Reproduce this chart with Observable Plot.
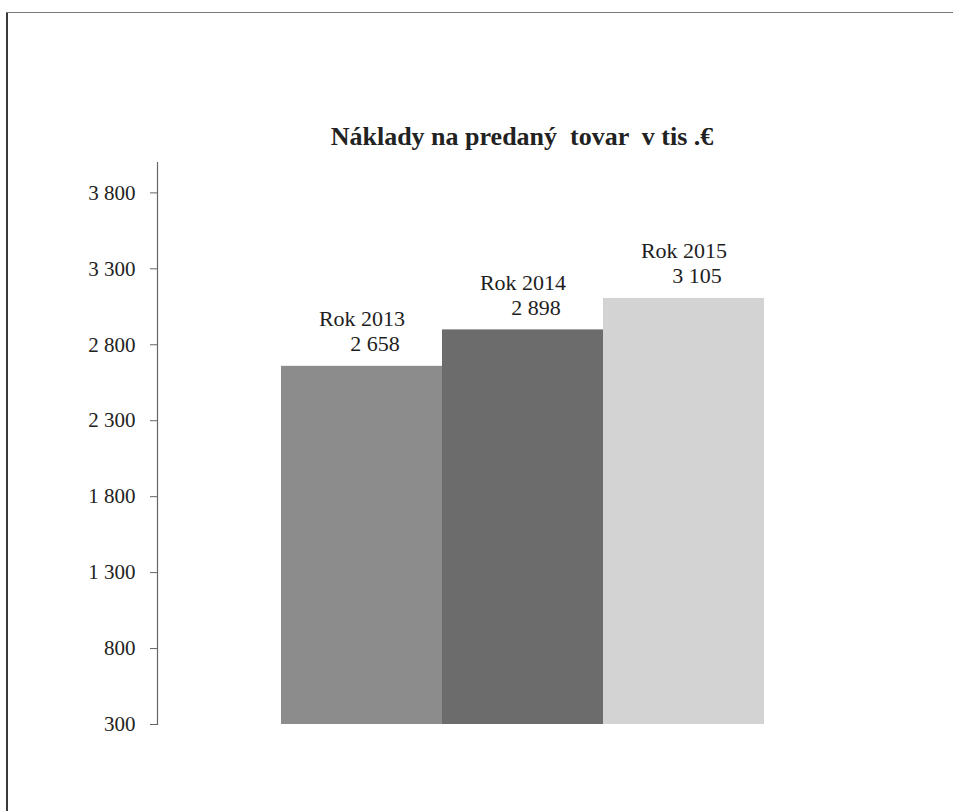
<!DOCTYPE html>
<html>
<head>
<meta charset="utf-8">
<script src="https://cdn.jsdelivr.net/npm/d3@7"></script>
<script src="https://cdn.jsdelivr.net/npm/@observablehq/plot@0.6"></script>
<style>
  html, body { margin: 0; padding: 0; background: #fff; overflow: hidden; }
  #page { position: relative; width: 953px; height: 811px; overflow: hidden; font-family: "Liberation Serif", "Times New Roman", serif; }
  #bleft { position: absolute; left: 6px; top: 12px; width: 2px; height: 820px; background: #3a3a3a; }
  #btop { position: absolute; left: 6px; top: 12px; width: 960px; height: 1px; background: #777; }
  #chart { position: absolute; left: 0; top: 0; }
</style>
</head>
<body>
<div id="page">
  <div id="bleft"></div>
  <div id="btop"></div>
  <div id="chart"></div>
</div>
<script>
const title = "Náklady na predaný  tovar  v tis .€";
const years = ["2013", "2014", "2015"];
const values = [2658, 2898, 3105];
const valueLabels = ["2 658", "2 898", "3 105"];
const yTicks = [300, 800, 1300, 1800, 2300, 2800, 3300, 3800];
const yDomain = [300, 4000];
const barColors = ["#8c8c8c", "#6c6c6c", "#d3d3d3"];

const data = years.map((y, i) => ({year: y, value: values[i], label: valueLabels[i], name: "Rok " + y}));

const chart = Plot.plot({
  width: 953,
  height: 811,
  marginLeft: 157,
  marginRight: 188,
  marginTop: 162,
  marginBottom: 87,
  style: {fontFamily: "Liberation Serif, Times New Roman, serif", fontSize: "21px", color: "#222", background: "transparent"},
  x: {domain: years, padding: 0, insetLeft: 123, axis: null},
  y: {domain: yDomain, axis: null},
  color: {domain: years, range: barColors},
  marks: [
    Plot.barY(data, {x: "year", y1: yDomain[0], y2: "value", fill: "year"}),
    Plot.frame({anchor: "left", stroke: "#666", strokeWidth: 1.2}),
    Plot.axisY({
      ticks: yTicks,
      tickSize: 7,
      tickPadding: 15,
      label: null,
      stroke: "#666",
      fill: "#222",
      fontSize: 21,
      tickFormat: d => d3.format(",")(d).replace(/,/g, " ")
    }),
    Plot.text(data, {x: "year", y: "value", text: "name", dy: -47, fontSize: 22, fill: "#1e1e1e"}),
    Plot.text(data, {x: "year", y: "value", text: "label", dy: -22, dx: 13, fontSize: 22, fill: "#1e1e1e"})
  ]
});

d3.select(chart).append("text")
  .attr("x", 522)
  .attr("y", 145)
  .attr("text-anchor", "middle")
  .attr("font-weight", "bold")
  .attr("font-size", 26)
  .attr("fill", "#222")
  .style("white-space", "pre")
  .text(title);

document.getElementById("chart").appendChild(chart);
</script>
</body>
</html>
